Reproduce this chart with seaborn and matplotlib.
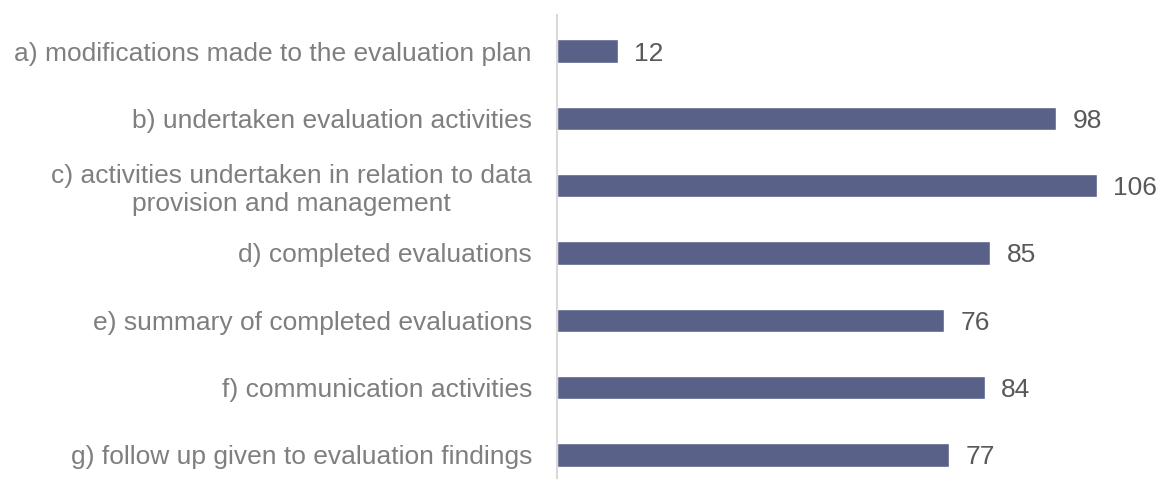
import matplotlib
matplotlib.use("Agg")
import matplotlib.pyplot as plt
import seaborn as sns
import pandas as pd

categories = [
    "a) modifications made to the evaluation plan",
    "b) undertaken evaluation activities",
    "c) activities undertaken in relation to data\nprovision and management",
    "d) completed evaluations",
    "e) summary of completed evaluations",
    "f) communication activities",
    "g) follow up given to evaluation findings",
]
values = [12, 98, 106, 85, 76, 84, 77]

sns.set_theme(style="white")
plt.rcParams["font.family"] = ["Liberation Sans", "DejaVu Sans"]

df = pd.DataFrame({"category": categories, "value": values})

fig = plt.figure(figsize=(11.58, 4.79), dpi=100)
ax = fig.add_axes([0.481, 0.0, 0.506, 0.9687])

sns.barplot(data=df, y="category", x="value", orient="h", color="#5A6189",
            saturation=1, width=0.35, ax=ax)

ax.set_xlim(0, 115)
ax.set_ylim(6.357, -0.535)
ax.set_xlabel("")
ax.set_ylabel("")
ax.set_xticks([])
for s in ["top", "right", "bottom"]:
    ax.spines[s].set_visible(False)
ax.spines["left"].set_color("#D9D9D9")
ax.spines["left"].set_linewidth(1.5)
ax.tick_params(axis="y", length=0, pad=18, labelsize=19, labelcolor="#7F7F7F")
for lbl in ax.get_yticklabels():
    lbl.set_multialignment("center")
    lbl.set_linespacing(1.2)

for i, v in enumerate(values):
    ax.text(v + 3.2, i, str(v), va="center_baseline", ha="left", fontsize=19, color="#595959")

fig.savefig("out.png", dpi=100)
